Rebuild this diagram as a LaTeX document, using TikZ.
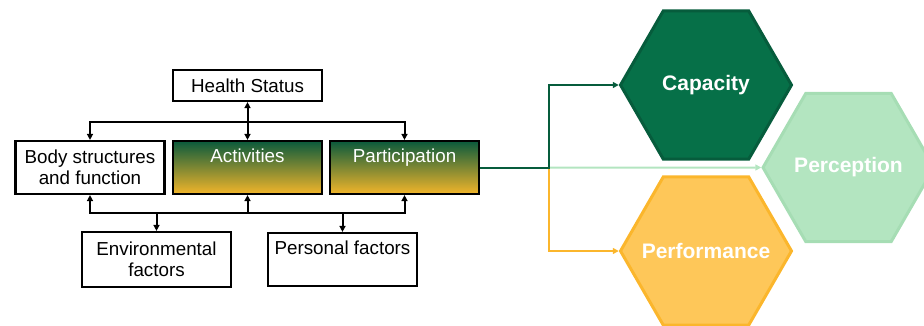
\documentclass[tikz,border=0pt]{standalone}
\usepackage{fontspec}
\setmainfont{Liberation Sans}
\usetikzlibrary{arrows.meta,shapes.geometric}
\definecolor{capgreen}{HTML}{067048}
\definecolor{capedge}{HTML}{065C3C}
\definecolor{percgreen}{HTML}{B3E5C0}
\definecolor{percedge}{HTML}{A6DDB4}
\definecolor{perforange}{HTML}{FEC759}
\definecolor{perfedge}{HTML}{FBB62C}
\definecolor{gradtop}{HTML}{0A5A3C}
\definecolor{gradmid}{HTML}{6E7A34}
\definecolor{gradbot}{HTML}{F2B52A}
\newcommand{\hexlabel}[1]{\makebox[0pt]{#1}}
\begin{document}
\begin{tikzpicture}[x=1pt,y=-1pt,
  box/.style={draw,line width=2.2pt,minimum width=149pt,inner sep=0pt,
    align=center,font=\fontsize{18.8}{20.5}\selectfont},
  topbox/.style={box,text height=21pt,text depth=32pt},
  shadebox/.style={topbox,text=white,top color=gradtop,middle color=gradmid,bottom color=gradbot},
  hexa/.style={regular polygon,regular polygon sides=6,minimum size=171pt,
    inner sep=0pt,line width=3pt,text=white,font=\bfseries\fontsize{21}{24}\selectfont},
  link/.style={line width=2pt,-{Triangle[length=6pt,width=6pt]}},
  twolink/.style={line width=2pt,{Triangle[length=6pt,width=6pt]}-{Triangle[length=6pt,width=6pt]}}]

\useasboundingbox (0,0) rectangle (924,325);

  \node[box,minimum height=31pt] (hs) at (247.5,85.5) {Health Status};
  \node[box,minimum height=53pt] (body) at (90,167.5) {Body structures\\and function};
  \node[shadebox] (act) at (247.5,167.5) {Activities};
  \node[shadebox] (part) at (404.5,167.5) {Participation};
  \node[box,minimum height=55pt] (env) at (156.5,259.5) {Environmental\\factors};
  \node[topbox] (pers) at (342.5,259.5) {Personal factors};

  \node[hexa,fill=capgreen,draw=capedge] (cap) at (706,85) {\hexlabel{Capacity}};
  \node[hexa,fill=percgreen,draw=percedge] (perc) at (848.5,167.5) {\hexlabel{Perception}};
  \node[hexa,fill=perforange,draw=perfedge] (perf) at (706,251) {\hexlabel{Performance}};

  \coordinate (top) at (247.5,122);
  \coordinate (bot) at (247.5,213);
  \coordinate (split) at (549,167.5);

  % health status row
  \draw[twolink] (hs) -- (act);
  \foreach \to in {body,part}
    \draw[link] (top) -| (\to);

  % factors row
  \foreach \to in {body,act,part}
    \draw[link] (bot) -| (\to.south);
  \foreach \to in {env,pers}
    \draw[link] (bot) -| (\to.north);

  % to the three views
  \draw[link,percgreen] (split) -- (perc.west);
  \draw[link,perfedge] (split) |- (perf.west);
  \draw[link,capedge] (part.east) -- (split) |- (cap.west);

\end{tikzpicture}
\end{document}
